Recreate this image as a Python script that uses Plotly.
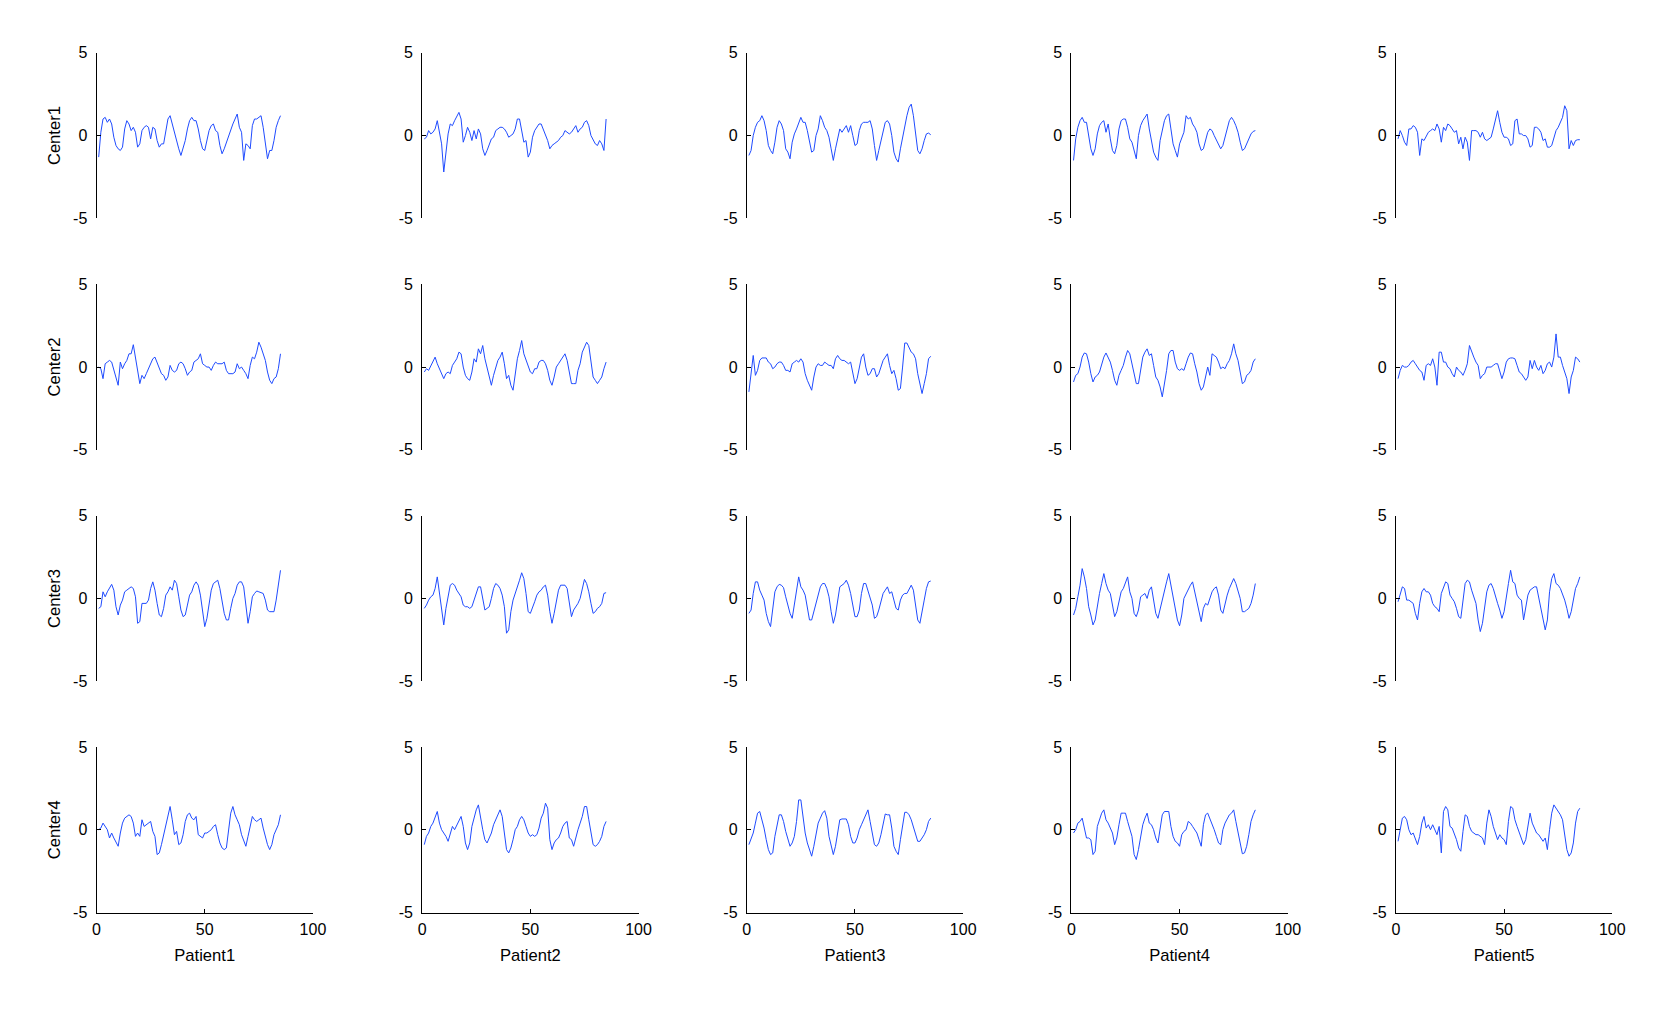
import plotly.graph_objects as go

centers = ["Center1", "Center2", "Center3", "Center4"]
patients = ["Patient1", "Patient2", "Patient3", "Patient4", "Patient5"]
x_ticks = [0, 50, 100]
y_ticks = [-5, 0, 5]

c1p1 = [-1.3, 0.2, 1.0, 1.1, 0.8, 1.0, 0.7, -0.1, -0.6, -0.8, -0.9, -0.7, 0.4, 0.9, 0.7, 0.3, 0.5, 0.2, -0.7, -0.5,
        0.3, 0.5, 0.6, 0.5, -0.2, 0.5, 0.4, -0.3, -0.7, -0.5, -0.5, 0.2, 1.0, 1.2, 0.7, 0.1, -0.4, -0.8, -1.2, -0.8,
        -0.3, 0.4, 0.9, 1.1, 0.9, 0.9, 0.4, -0.3, -0.8, -0.9, -0.3, 0.3, 0.6, 0.7, 0.3, 0.2, -0.6, -1.1, -0.8, -0.4,
        0.0, 0.4, 0.7, 1.0, 1.3, 0.5, 0.2, -1.5, -0.5, -0.6, -0.8, 0.6, 1.0, 1.0, 1.1, 1.2, 0.5, -0.6, -1.4, -0.9,
        -0.9, -0.3, 0.5, 0.9, 1.2]
c1p2 = [-0.2, -0.1, 0.3, 0.1, 0.2, 0.4, 0.9, 0.2, -0.5, -2.2, -0.9, 0.1, 0.7, 0.6, 0.9, 1.2, 1.4, 1.0, -0.4, 0.0,
        0.5, 0.2, -0.3, 0.3, -0.2, 0.4, 0.1, -0.8, -1.2, -0.9, -0.6, -0.2, -0.1, 0.3, 0.4, 0.5, 0.5, 0.4, 0.2, -0.1,
        0.0, 0.1, 0.4, 1.0, 1.0, 0.4, -0.4, -0.3, -1.3, -1.0, -0.1, 0.3, 0.5, 0.7, 0.7, 0.4, 0.1, -0.3, -0.8, -0.6,
        -0.5, -0.4, -0.3, -0.1, 0.0, 0.3, 0.2, 0.1, 0.2, 0.4, 0.6, 0.2, 0.4, 0.5, 0.8, 0.9, 0.6, 0.0, -0.3, -0.5,
        -0.6, -0.3, -0.5, -0.9, 1.0]
c1p3 = [-1.2, -0.9, 0.0, 0.5, 0.8, 0.9, 1.2, 0.9, 0.3, -0.6, -0.9, -1.1, -0.4, 0.5, 0.9, 0.7, 0.3, -0.8, -1.0, -1.4,
        -0.4, 0.1, 0.4, 0.7, 1.1, 0.8, 0.8, 0.3, -0.4, -1.0, -0.9, 0.0, 0.4, 1.2, 0.9, 0.5, 0.3, -0.1, -0.8, -1.5,
        -0.8, -0.1, 0.4, 0.2, 0.4, 0.6, 0.2, 0.6, 0.0, -0.6, -0.5, 0.3, 0.7, 0.8, 0.8, 0.8, 0.9, 0.4, -0.6, -1.5,
        -0.9, -0.3, 0.3, 0.8, 0.9, 0.7, 0.0, -1.0, -1.4, -1.6, -0.8, -0.1, 0.6, 1.2, 1.7, 1.9, 1.2, 0.0, -0.9, -1.1,
        -0.8, -0.3, 0.1, 0.15, 0.05]
c1p4 = [-1.5, -0.2, 0.5, 0.9, 1.1, 0.8, 0.8, 0.1, -0.8, -1.2, -0.8, 0.1, 0.6, 0.8, 0.9, 0.2, 0.7, -0.2, -0.9, -1.1,
        -0.6, 0.4, 0.9, 1.0, 1.0, 0.5, -0.2, -0.4, -1.0, -1.4, 0.0, 0.6, 0.9, 1.1, 1.3, 0.4, -0.3, -1.0, -1.3, -1.5,
        -0.3, 0.3, 0.9, 1.2, 1.3, 0.4, -0.5, -0.9, -1.3, -0.5, -0.2, 0.2, 1.2, 1.0, 1.1, 0.7, 0.5, 0.2, -0.5, -0.9,
        -0.8, -0.3, 0.2, 0.4, 0.3, 0.0, -0.3, -0.5, -0.8, -0.6, -0.1, 0.5, 0.9, 1.1, 0.9, 0.6, 0.2, -0.4, -0.9, -0.8,
        -0.5, -0.2, 0.1, 0.25, 0.3]
c1p5 = [-0.2, 0.3, 0.0, -0.4, -0.6, 0.4, 0.4, 0.6, 0.5, 0.2, -1.2, -0.2, -0.3, 0.0, 0.2, 0.3, 0.4, 0.3, 0.7, 0.4,
        -0.4, 0.5, 0.3, 0.7, 0.6, 0.4, 0.2, 0.3, -0.5, -0.1, -0.8, -0.1, -0.4, -1.5, 0.3, 0.3, 0.3, 0.2, -0.1, 0.2,
        -0.2, -0.3, -0.2, -0.1, 0.4, 1.0, 1.5, 0.8, 0.2, -0.1, -0.1, -0.2, -0.6, -0.5, 0.9, 1.0, 0.1, 0.1, 0.0, 0.0,
        -0.2, -0.7, -0.6, 0.5, 0.5, 0.4, 0.2, -0.3, -0.2, -0.7, -0.7, -0.6, -0.2, 0.3, 0.5, 0.8, 1.1, 1.8, 1.5, -0.8,
        -0.3, -0.6, -0.3, -0.25, -0.25]

c2p1 = [0.0, -0.1, -0.7, 0.2, 0.3, 0.4, 0.3, -0.2, -0.7, -1.1, 0.3, -0.1, 0.2, 0.4, 0.8, 0.8, 1.35, 0.5, -0.3, -1.0,
        -0.5, -0.7, -0.4, -0.1, 0.2, 0.5, 0.6, 0.3, -0.1, -0.4, -0.5, -0.8, -0.6, 0.1, -0.2, -0.3, -0.2, 0.2, 0.3, 0.2,
        -0.1, -0.5, -0.3, -0.2, 0.3, 0.4, 0.5, 0.8, 0.2, 0.1, 0.0, 0.0, -0.2, 0.1, 0.3, 0.2, 0.2, 0.2, 0.3, -0.2,
        -0.4, -0.4, -0.4, -0.3, 0.2, -0.1, 0.0, -0.2, -0.4, -0.7, 0.1, 0.6, 0.5, 0.9, 1.5, 1.2, 0.8, 0.4, -0.3, -0.8,
        -1.0, -0.7, -0.6, -0.1, 0.8]
c2p2 = [-0.3, -0.1, -0.2, 0.1, 0.4, 0.6, 0.2, -0.1, -0.5, -0.7, -0.4, -0.3, -0.4, 0.1, 0.3, 0.5, 0.9, 0.8, 0.0, -0.5,
        -0.7, -0.8, -0.3, 0.5, 0.3, 1.1, 0.8, 1.3, 0.5, 0.0, -0.6, -1.1, -0.5, -0.1, 0.4, 0.6, 0.9, 0.2, -0.7, -0.5,
        -1.1, -1.4, -0.4, 0.5, 1.0, 1.6, 0.8, 0.4, 0.0, -0.3, -0.4, -0.1, -0.1, 0.3, 0.4, 0.4, 0.2, -0.2, -0.8, -1.1,
        -0.6, 0.0, 0.2, 0.4, 0.6, 0.8, 0.4, -0.3, -1.0, -1.0, -1.0, -0.2, 0.2, 0.9, 1.2, 1.5, 1.3, 0.4, -0.6, -0.8,
        -1.0, -0.8, -0.6, -0.1, 0.3]
c2p3 = [-1.5, -0.5, 0.7, -0.5, -0.2, 0.4, 0.55, 0.55, 0.55, 0.3, 0.2, -0.1, 0.0, 0.2, 0.3, 0.3, 0.1, -0.2, -0.2, -0.3,
        0.2, 0.3, 0.4, 0.3, 0.5, 0.3, -0.4, -0.8, -1.1, -1.4, -0.6, 0.0, 0.2, 0.1, 0.1, 0.3, 0.2, 0.1, 0.1, -0.1,
        0.5, 0.7, 0.5, 0.4, 0.4, 0.3, 0.2, 0.3, -0.3, -1.0, -0.7, 0.0, 0.6, 0.8, 0.0, -0.5, -0.4, -0.1, -0.1, -0.6,
        -0.4, 0.0, 0.4, 0.6, 0.8, 0.1, -0.4, -0.2, -0.7, -1.4, -1.3, 0.0, 1.45, 1.45, 1.2, 0.9, 0.8, 0.5, -0.4, -1.1,
        -1.6, -1.0, -0.4, 0.5, 0.65]
c2p4 = [-0.9, -0.5, -0.4, 0.0, 0.6, 0.85, 0.8, 0.3, -0.4, -0.9, -0.6, -0.5, -0.3, 0.1, 0.6, 0.85, 0.6, 0.3, -0.2, -0.8,
        -1.1, -0.5, -0.2, 0.1, 0.6, 1.0, 0.8, 0.2, -0.6, -1.0, -1.0, -0.3, 0.6, 0.9, 1.1, 0.7, 0.8, 0.1, -0.6, -0.8,
        -1.2, -1.8, -1.1, -0.2, 0.8, 1.0, 1.0, 0.3, -0.1, -0.2, -0.1, -0.2, 0.2, 0.6, 0.85, 0.8, 0.2, -0.3, -1.0, -1.4,
        -1.2, -0.6, 0.0, -0.5, 0.8, 0.7, 0.6, 0.3, -0.1, 0.0, -0.1, 0.2, 0.4, 0.8, 1.4, 0.8, 0.4, -0.3, -1.0, -0.9,
        -0.5, -0.4, -0.2, 0.3, 0.5]
c2p5 = [-0.7, -0.2, 0.1, 0.0, 0.0, 0.1, 0.3, 0.4, 0.2, 0.0, -0.2, -0.3, -0.8, 0.1, 0.2, 0.1, 0.5, 0.0, -1.1, 0.9,
        0.9, 0.3, 0.3, 0.0, -0.1, -0.4, -0.6, 0.0, -0.2, -0.3, -0.5, -0.2, 0.2, 1.3, 0.9, 0.6, 0.3, 0.1, -0.7, -0.5,
        -0.4, 0.0, 0.0, 0.0, 0.1, 0.2, 0.2, -0.3, -0.7, -0.3, 0.3, 0.5, 0.55, 0.55, 0.5, 0.1, -0.3, -0.4, -0.6, -0.8,
        -0.6, 0.4, -0.1, 0.4, 0.0, -0.2, 0.1, -0.4, -0.2, 0.2, 0.3, 0.0, 0.6, 2.0, 0.6, 0.6, 0.1, -0.3, -0.7, -1.6,
        -0.6, -0.2, 0.6, 0.5, 0.3]

c3p1 = [-0.6, -0.5, 0.4, 0.1, 0.4, 0.6, 0.85, 0.5, -0.5, -1.0, -0.4, -0.1, 0.4, 0.5, 0.6, 0.7, 0.6, 0.1, -1.5, -1.4,
        -0.3, -0.3, -0.3, -0.1, 0.6, 1.0, 0.5, -0.3, -1.0, -1.1, -0.6, 0.2, 0.4, 0.7, 0.5, 1.1, 0.9, 0.1, -0.7, -1.1,
        -1.0, -0.4, 0.2, 0.4, 0.8, 1.0, 0.8, 0.2, -0.8, -1.7, -1.2, -0.3, 0.5, 0.9, 1.0, 1.1, 0.6, -0.1, -0.9, -1.3,
        -1.3, -0.6, 0.0, 0.3, 0.8, 1.0, 1.0, 0.7, -0.6, -1.5, -0.8, 0.1, 0.3, 0.45, 0.4, 0.35, 0.3, -0.1, -0.7, -0.8,
        -0.8, -0.8, -0.1, 0.7, 1.7]
c3p2 = [-0.6, -0.4, -0.1, 0.1, 0.2, 0.6, 1.3, 0.3, -0.9, -1.6, -0.6, 0.2, 0.8, 0.9, 0.8, 0.5, 0.3, 0.1, -0.4, -0.5,
        -0.5, -0.6, -0.5, -0.1, 0.3, 0.7, 0.7, 0.1, -0.7, -0.6, -0.5, 0.0, 0.6, 0.9, 0.8, 0.6, 0.2, -0.5, -2.1, -1.9,
        -0.8, -0.1, 0.3, 0.6, 1.1, 1.55, 1.2, 0.3, -0.8, -0.9, -0.6, -0.2, 0.2, 0.4, 0.5, 0.7, 0.8, 0.2, -0.8, -1.5,
        -0.9, -0.3, 0.5, 0.8, 0.8, 0.8, 0.6, -0.4, -1.1, -0.7, -0.5, -0.3, 0.0, 0.5, 1.15, 0.9, 0.4, -0.3, -0.9, -0.8,
        -0.6, -0.5, -0.3, 0.3, 0.35]
c3p3 = [-0.9, -0.7, 0.3, 1.0, 1.0, 0.5, 0.2, -0.1, -0.9, -1.4, -1.7, -0.5, 0.4, 0.7, 0.85, 0.8, 0.65, 0.1, -0.5, -0.9,
        -1.2, -0.4, 0.6, 1.3, 0.7, 0.5, 0.2, -0.6, -1.3, -1.3, -0.8, -0.2, 0.3, 0.7, 0.9, 0.9, 0.6, 0.1, -0.8, -1.5,
        -1.0, -0.2, 0.7, 0.8, 0.9, 1.1, 0.8, 0.3, -0.4, -1.1, -1.1, -0.7, 0.3, 0.9, 0.9, 0.5, 0.1, -0.4, -1.2, -1.1,
        -0.7, -0.2, 0.3, 0.5, 0.7, 0.3, 0.4, -0.1, -0.6, -0.7, -0.1, 0.2, 0.3, 0.3, 0.6, 0.8, 0.5, -0.3, -1.3, -1.5,
        -0.7, -0.1, 0.6, 1.0, 1.05]
c3p4 = [-1.0, -0.6, 0.1, 0.8, 1.8, 1.3, 0.6, -0.5, -1.0, -1.6, -1.3, -0.4, 0.3, 0.9, 1.5, 0.9, 0.5, 0.3, -0.3, -1.1,
        -0.8, -0.2, 0.4, 0.6, 1.0, 1.3, 0.4, 0.0, -0.9, -1.1, -0.7, 0.1, 0.2, 0.3, 0.0, 0.5, 0.7, 0.0, -0.9, -1.2,
        -0.6, 0.0, 0.6, 1.0, 1.5, 0.8, 0.0, -0.7, -1.3, -1.65, -1.0, 0.0, 0.3, 0.5, 0.8, 1.0, 0.4, -0.1, -0.7, -1.4,
        -0.6, -0.3, -0.4, 0.0, 0.4, 0.6, 0.7, 0.2, -0.7, -0.9, -0.3, 0.2, 0.6, 0.9, 1.2, 0.9, 0.5, 0.0, -0.8, -0.8,
        -0.7, -0.6, -0.3, 0.2, 0.9]
c3p5 = [-0.2, 0.3, 0.7, 0.6, -0.1, -0.1, -0.2, -0.3, -0.9, -1.3, -0.3, 0.4, 0.6, 0.4, 0.4, 0.2, -0.3, -0.5, -0.6, -0.8,
        0.3, 0.7, 1.0, 0.9, 0.2, 0.0, -0.2, -0.6, -1.1, -1.2, -0.2, 0.9, 1.1, 1.0, 0.5, 0.1, -0.3, -1.3, -2.0, -1.5,
        -0.5, 0.4, 0.8, 0.9, 0.6, 0.1, -0.3, -0.7, -1.2, -0.8, 0.2, 0.9, 1.7, 1.0, 0.9, 0.2, 0.0, -0.1, -1.3, -0.6,
        0.2, 0.5, 0.6, 0.7, 0.7, 0.0, -0.7, -1.2, -1.9, -1.3, 0.4, 1.2, 1.5, 0.9, 0.8, 0.6, 0.3, -0.1, -0.6, -1.2,
        -0.8, -0.2, 0.6, 0.9, 1.3]

c4p1 = [0.0, 0.1, 0.4, 0.2, 0.0, -0.5, -0.2, -0.5, -0.8, -1.0, -0.2, 0.4, 0.7, 0.8, 0.9, 0.8, 0.4, -0.4, -0.2, -0.4,
        0.6, 0.2, 0.3, 0.4, 0.5, -0.1, -0.4, -1.5, -1.4, -0.9, -0.3, 0.4, 1.0, 1.4, 0.6, -0.3, -0.1, -0.9, -0.8, -0.3,
        0.5, 0.9, 1.0, 0.7, 0.6, 0.8, -0.3, -0.4, -0.5, -0.2, -0.2, -0.1, 0.0, 0.2, 0.3, -0.3, -0.8, -1.1, -1.2, -1.1,
        0.0, 1.0, 1.4, 0.9, 0.6, 0.3, -0.3, -0.7, -1.0, -0.4, 0.3, 0.8, 0.6, 0.5, 0.6, 0.7, 0.1, -0.5, -0.9, -1.2,
        -0.9, -0.3, 0.0, 0.3, 0.9]
c4p2 = [-0.9, -0.4, -0.2, 0.2, 0.4, 0.8, 1.1, 0.4, 0.0, -0.2, -0.4, -0.7, -0.3, 0.2, 0.0, 0.3, 0.6, 0.8, 0.2, -0.8,
        -1.2, -0.8, 0.2, 0.8, 1.2, 1.5, 0.7, 0.0, -0.6, -0.8, -0.5, -0.2, 0.3, 0.6, 0.9, 1.2, 0.8, -0.3, -1.2, -1.4,
        -1.1, -0.6, 0.0, 0.2, 0.6, 0.8, 0.6, 0.2, -0.2, -0.4, -0.3, -0.4, -0.3, 0.1, 0.7, 1.0, 1.6, 1.3, -0.6, -1.2,
        -0.8, -0.6, -0.5, -0.2, 0.2, 0.4, 0.5, -0.5, -0.6, -1.0, -0.4, 0.0, 0.4, 0.8, 1.4, 1.4, 0.6, -0.2, -0.9, -1.0,
        -0.9, -0.7, -0.4, 0.2, 0.5]
c4p3 = [-0.9, -0.5, -0.2, 0.4, 1.0, 1.1, 0.6, 0.1, -0.6, -1.2, -1.5, -1.4, -0.4, 0.3, 0.9, 0.9, 0.5, -0.1, -0.5, -1.0,
        -0.8, -0.4, 0.5, 1.8, 1.8, 0.8, -0.2, -0.8, -1.2, -1.6, -1.0, -0.2, 0.4, 0.7, 1.0, 1.15, 0.7, -0.4, -1.0, -1.5,
        -1.0, -0.2, 0.6, 0.65, 0.65, 0.65, 0.3, -0.4, -0.8, -0.8, -0.5, 0.0, 0.3, 0.6, 1.0, 1.2, 0.5, -0.3, -0.9, -1.0,
        -0.8, -0.3, 0.3, 0.95, 0.9, 0.9, 0.1, -1.0, -1.3, -1.5, -0.6, 0.4, 1.05, 1.05, 0.9, 0.6, 0.2, -0.3, -0.7, -0.7,
        -0.5, -0.3, 0.0, 0.5, 0.7]
c4p4 = [-0.2, 0.0, 0.4, 0.5, 0.7, 0.0, -0.5, -0.5, -0.6, -1.5, -1.3, 0.2, 0.6, 1.0, 1.2, 0.6, 0.4, 0.1, -0.2, -0.9,
        -0.5, 0.3, 1.0, 1.0, 1.0, 0.5, 0.1, -0.4, -1.5, -1.8, -1.2, -0.3, 0.3, 0.7, 1.0, 0.4, 0.3, 0.0, -0.5, -0.8,
        0.0, 0.9, 1.1, 1.1, 1.1, 0.2, -0.4, -0.7, -0.8, -1.0, -0.3, -0.1, 0.0, 0.5, 0.4, 0.2, 0.0, -0.2, -0.6, -1.0,
        0.3, 0.9, 1.0, 0.7, 0.4, 0.0, -0.4, -0.8, -0.9, 0.0, 0.4, 0.7, 0.9, 1.0, 1.2, 0.5, -0.2, -0.8, -1.45, -1.4,
        -1.0, -0.3, 0.5, 0.9, 1.2]
c4p5 = [-0.7, 0.0, 0.7, 0.8, 0.6, 0.0, -0.3, -0.2, -0.6, -0.9, -0.4, 0.4, 0.8, 0.1, 0.3, 0.0, 0.3, 0.0, -0.3, 0.2,
        -1.4, 1.1, 1.4, 1.2, 0.2, 0.1, -0.2, -0.6, -1.1, -1.3, -0.1, 0.9, 0.8, 0.2, -0.1, -0.2, -0.3, -0.3, -0.4, -0.5,
        -0.9, 0.4, 1.2, 0.8, 0.2, -0.2, -0.6, -0.3, -0.5, -0.6, -0.9, 0.5, 1.4, 1.3, 0.6, 0.2, -0.2, -0.6, -0.9, -0.6,
        0.2, 1.0, 0.4, 0.1, -0.2, -0.3, -0.5, -0.7, -0.5, -1.2, 0.0, 1.0, 1.5, 1.3, 1.1, 0.9, 0.6, -0.2, -1.2, -1.6,
        -1.4, -0.8, 0.4, 1.1, 1.3]

series = [
    [c1p1, c1p2, c1p3, c1p4, c1p5],
    [c2p1, c2p2, c2p3, c2p4, c2p5],
    [c3p1, c3p2, c3p3, c3p4, c3p5],
    [c4p1, c4p2, c4p3, c4p4, c4p5],
]

# figure is 16px smaller than the window: the page's default 8px body margin fills the rest
W, H = 1648, 996
PAD = 8.0
col_left = [93.4 - PAD, 422.4 - PAD, 750.4 - PAD, 1078.4 - PAD, 1406.3 - PAD]
col_width = 218.7
row_top = [45.4 - PAD, 280.9 - PAD, 516.3 - PAD, 751.6 - PAD]
row_height = 168.5

FONT = "Liberation Sans, Arial, Helvetica, sans-serif"
FS_TICK = 16
FS_TITLE = 16.6
LINE_COLOR = "#1f4bff"

fig = go.Figure()
layout = {}
for r in range(4):
    for c in range(5):
        k = r * 5 + c + 1
        xa = "xaxis" if k == 1 else f"xaxis{k}"
        ya = "yaxis" if k == 1 else f"yaxis{k}"
        xref = "x" if k == 1 else f"x{k}"
        yref = "y" if k == 1 else f"y{k}"
        vals = series[r][c]
        xs = list(range(1, len(vals) + 1))
        fig.add_trace(go.Scatter(x=xs, y=vals, mode="lines", xaxis=xref, yaxis=yref,
                                 line=dict(color=LINE_COLOR, width=1), showlegend=False,
                                 hoverinfo="x+y"))
        x0 = col_left[c] / W
        x1 = (col_left[c] + col_width) / W
        y1 = 1 - row_top[r] / H
        y0 = 1 - (row_top[r] + row_height) / H
        bottom = (r == 3)
        layout[xa] = dict(domain=[x0, x1], anchor=yref, range=[0, 100],
                          tickvals=x_ticks, ticktext=[str(t) for t in x_ticks],
                          showline=bottom, linecolor="black", linewidth=1,
                          ticks="inside" if bottom else "", ticklen=4, tickcolor="black",
                          showticklabels=bottom, showgrid=False, zeroline=False,
                          ticklabelstandoff=2,
                          tickfont=dict(family=FONT, size=FS_TICK, color="black"),
                          title=dict(text=patients[c] if bottom else "",
                                     font=dict(family=FONT, size=FS_TITLE, color="black"), standoff=12))
        layout[ya] = dict(domain=[y0, y1], anchor=xref, range=[-5, 5],
                          tickvals=y_ticks, ticktext=[str(t) for t in y_ticks],
                          showline=True, linecolor="black", linewidth=1,
                          ticks="inside", ticklen=4, tickcolor="black",
                          showgrid=False, zeroline=False,
                          ticklabelstandoff=5,
                          tickfont=dict(family=FONT, size=FS_TICK, color="black"),
                          title=dict(text=centers[r] if c == 0 else "",
                                     font=dict(family=FONT, size=FS_TITLE, color="black"), standoff=8))

fig.update_layout(width=W, height=H, margin=dict(l=0, r=0, t=0, b=0),
                  paper_bgcolor="white", plot_bgcolor="white", **layout)
fig.write_html("out.html", config={"displayModeBar": False})
